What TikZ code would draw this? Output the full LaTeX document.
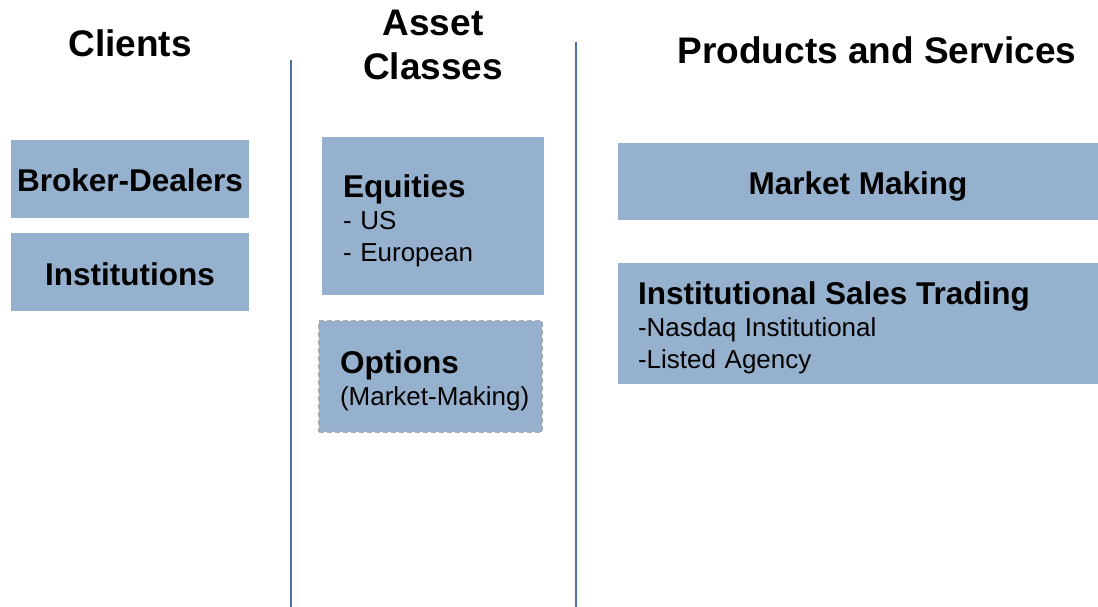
\documentclass[tikz,border=0pt]{standalone}
\usepackage{fontspec}
\setmainfont{Liberation Sans}
\usepackage{tikz}
\usetikzlibrary{positioning}

\definecolor{panelblue}{RGB}{150,177,205}
\definecolor{rulecol}{RGB}{79,114,165}
\definecolor{dashgray}{RGB}{165,172,182}

\tikzset{
  heading/.style={inner sep=0pt, align=center, font=\fontsize{37}{44}\selectfont\bfseries},
  panel/.style={fill=panelblue, draw=none, inner ysep=0pt},
  panelhead/.style={font=\fontsize{31.5}{38}\selectfont\bfseries, text height=33, text depth=7},
  panelitems/.style={align=left, font=\fontsize{26}{32}\selectfont},
}
% bold first line of a panel, #1 = strut height that sets where it sits
\newcommand{\hd}[2]{{\fontsize{31.5}{32}\selectfont\bfseries\rule{0pt}{#1pt}#2}}

\begin{document}
\begin{tikzpicture}[x=1pt, y=-1pt]
    \useasboundingbox (0,0) rectangle (1098,607);

    % column headings
    \node[heading, anchor=base] (clients) at (130,57) {Clients};
    \node[heading, anchor=north] (assets) at (433,10) {Asset\\Classes};
    \node[heading, anchor=base] (products) at (877,64) {Products and Services};

    % column separators
    \draw[rulecol, line width=1.5pt] (291,60) -- (291,607);
    \draw[rulecol, line width=1.5pt] (576,42) -- (576,607);

    % clients
    \node[panel, panelhead, minimum width=238, minimum height=78] (broker) at (130,179) {Broker-Dealers};
    \node[panel, panelhead, minimum width=238, minimum height=78] (institutions) at (130,272) {Institutions};

    % asset classes
    \node[panel, panelitems, text width=180, inner xsep=21, minimum height=158] (equities) at (433,216)
        {\hd{33}{Equities}\\- US\\- European};
    \node[panel, panelitems, text width=181, inner xsep=21, minimum height=111,
          draw=dashgray, dash pattern=on 5pt off 3pt, line width=1.8pt] (options) at (430.5,376.5)
        {\hd{31}{Options}\\\mbox{(Market-Making)}};

    % products and services
    \node[panel, panelhead, minimum width=480, minimum height=77] (making) at (858,181.5) {Market Making};
    \node[panel, panelitems, text width=440, inner xsep=20, minimum height=121] (sales) at (858,323.5)
        {\hd{31}{Institutional Sales Trading}\\-Nasdaq Institutional\\-Listed Agency};
\end{tikzpicture}
\end{document}
